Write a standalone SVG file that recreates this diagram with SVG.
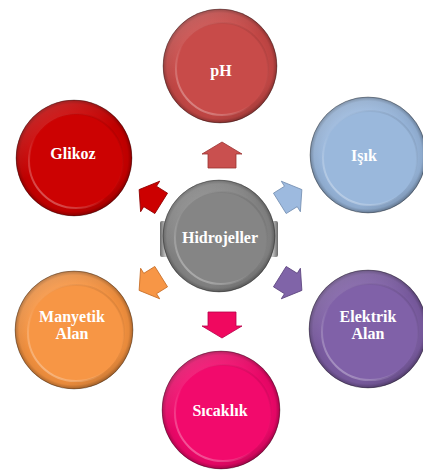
<svg xmlns="http://www.w3.org/2000/svg" width="423" height="472" viewBox="0 0 423 472">
<style>
.lbl{font-family:"Liberation Serif","Times New Roman",serif;font-weight:bold;font-size:16px;fill:#fff;text-anchor:middle}
.shade{fill:url(#outerShade)}
.gloss{fill:url(#outerGloss)}
.rim{fill:none;stroke:url(#rimLight);stroke-width:2}
.edge{fill:none;stroke:#000;stroke-opacity:0.3;stroke-width:1}
.arr{stroke-width:0.8;stroke-linejoin:miter}
</style>
<defs>
<radialGradient id="outerShade" cx="0.5" cy="0.5" r="0.5">
<stop offset="0.78" stop-color="#000" stop-opacity="0"/>
<stop offset="0.93" stop-color="#000" stop-opacity="0.06"/>
<stop offset="1" stop-color="#000" stop-opacity="0.3"/>
</radialGradient>
<linearGradient id="outerGloss" x1="0.2" y1="0" x2="0.8" y2="1">
<stop offset="0" stop-color="#fff" stop-opacity="0.18"/>
<stop offset="0.45" stop-color="#fff" stop-opacity="0"/>
<stop offset="0.8" stop-color="#000" stop-opacity="0"/>
<stop offset="1" stop-color="#000" stop-opacity="0.15"/>
</linearGradient>
<linearGradient id="rimLight" x1="0.8" y1="0.1" x2="0.1" y2="0.9">
<stop offset="0" stop-color="#000" stop-opacity="0.08"/>
<stop offset="0.55" stop-color="#fff" stop-opacity="0"/>
<stop offset="1" stop-color="#fff" stop-opacity="0.35"/>
</linearGradient>
<linearGradient id="earGrad" x1="0" y1="0" x2="1" y2="0">
<stop offset="0" stop-color="#6a6a6a"/>
<stop offset="0.05" stop-color="#cfcfcf"/>
<stop offset="0.11" stop-color="#8a8a8a"/>
<stop offset="0.89" stop-color="#8a8a8a"/>
<stop offset="0.95" stop-color="#cfcfcf"/>
<stop offset="1" stop-color="#6a6a6a"/>
</linearGradient>
<clipPath id="midClip"><rect x="135" y="0" width="170" height="472"/></clipPath>
<path id="bigArrow" d="M0,-13 L20,-1 L14,-1 L14,13 L-14,13 L-14,-1 L-20,-1 Z"/>
<path id="smallArrow" d="M0,-14 L18,-1 L12,-1 L12,12 L-12,12 L-12,-1 L-18,-1 Z"/>
</defs>

<g id="connectors">
<use href="#bigArrow" class="arr" transform="translate(222,155)" fill="#c9504f" stroke="#9a3431"/>
<use href="#bigArrow" class="arr" transform="translate(222,325) rotate(180)" fill="#f0085f" stroke="#b8004a"/>
<g clip-path="url(#midClip)">
<use href="#smallArrow" class="arr" transform="translate(151,197) rotate(-58)" fill="#cc0000" stroke="#8f0000"/>
<use href="#smallArrow" class="arr" transform="translate(290,197) rotate(58)" fill="#9dbadf" stroke="#7891b3"/>
<use href="#smallArrow" class="arr" transform="translate(290,283) rotate(122)" fill="#8064a8" stroke="#5e4680"/>
<use href="#smallArrow" class="arr" transform="translate(151,283) rotate(-122)" fill="#f79646" stroke="#c8702a"/>
</g>
</g>

<g id="hidrojeller">
<rect x="160" y="221" width="118" height="36" rx="2" fill="url(#earGrad)"/>
<circle cx="219" cy="236" r="56" fill="#858585"/>
<circle cx="219" cy="236" r="56" class="shade"/>
<circle cx="219" cy="236" r="56" class="gloss"/>
<circle cx="221" cy="238" r="46" fill="#858585"/>
<circle cx="221" cy="238" r="46" class="rim"/>
<circle cx="219" cy="236" r="56" class="edge"/>
<text class="lbl" x="220" y="243">Hidrojeller</text>
</g>

<g id="ph">
<circle cx="220" cy="66" r="57" fill="#c64846"/>
<circle cx="220" cy="66" r="57" class="shade"/>
<circle cx="220" cy="66" r="57" class="gloss"/>
<circle cx="222" cy="69" r="46" fill="#c84b49"/>
<circle cx="222" cy="69" r="46" class="rim"/>
<circle cx="220" cy="66" r="57" class="edge"/>
<text class="lbl" x="221" y="76">pH</text>
</g>

<g id="glikoz">
<circle cx="74" cy="158" r="58" fill="#c80000"/>
<circle cx="74" cy="158" r="58" class="shade"/>
<circle cx="74" cy="158" r="58" class="gloss"/>
<circle cx="76" cy="161" r="47" fill="#cc0202"/>
<circle cx="76" cy="161" r="47" class="rim"/>
<circle cx="74" cy="158" r="58" class="edge"/>
<text class="lbl" x="73" y="159">Glikoz</text>
</g>

<g id="isik">
<circle cx="368" cy="155" r="58" fill="#97b5da"/>
<circle cx="368" cy="155" r="58" class="shade"/>
<circle cx="368" cy="155" r="58" class="gloss"/>
<circle cx="370" cy="158" r="47" fill="#9ab8dc"/>
<circle cx="370" cy="158" r="47" class="rim"/>
<circle cx="368" cy="155" r="58" class="edge"/>
<text class="lbl" x="364" y="161">Işık</text>
</g>

<g id="elektrik">
<circle cx="368" cy="329" r="59" fill="#7c5da3"/>
<circle cx="368" cy="329" r="59" class="shade"/>
<circle cx="368" cy="329" r="59" class="gloss"/>
<circle cx="370" cy="332" r="48" fill="#8061a8"/>
<circle cx="370" cy="332" r="48" class="rim"/>
<circle cx="368" cy="329" r="59" class="edge"/>
<text class="lbl" x="368" y="322">Elektrik</text>
<text class="lbl" x="368" y="339">Alan</text>
</g>

<g id="manyetik">
<circle cx="74" cy="330" r="59" fill="#f5923f"/>
<circle cx="74" cy="330" r="59" class="shade"/>
<circle cx="74" cy="330" r="59" class="gloss"/>
<circle cx="76" cy="333" r="48" fill="#f79645"/>
<circle cx="76" cy="333" r="48" class="rim"/>
<circle cx="74" cy="330" r="59" class="edge"/>
<text class="lbl" x="72" y="322">Manyetik</text>
<text class="lbl" x="72" y="339">Alan</text>
</g>

<g id="sicaklik">
<circle cx="221" cy="410" r="59" fill="#f0076a"/>
<circle cx="221" cy="410" r="59" class="shade"/>
<circle cx="221" cy="410" r="59" class="gloss"/>
<circle cx="223" cy="413" r="48" fill="#f20a6c"/>
<circle cx="223" cy="413" r="48" class="rim"/>
<circle cx="221" cy="410" r="59" class="edge"/>
<text class="lbl" x="220" y="416">Sıcaklık</text>
</g>
</svg>
